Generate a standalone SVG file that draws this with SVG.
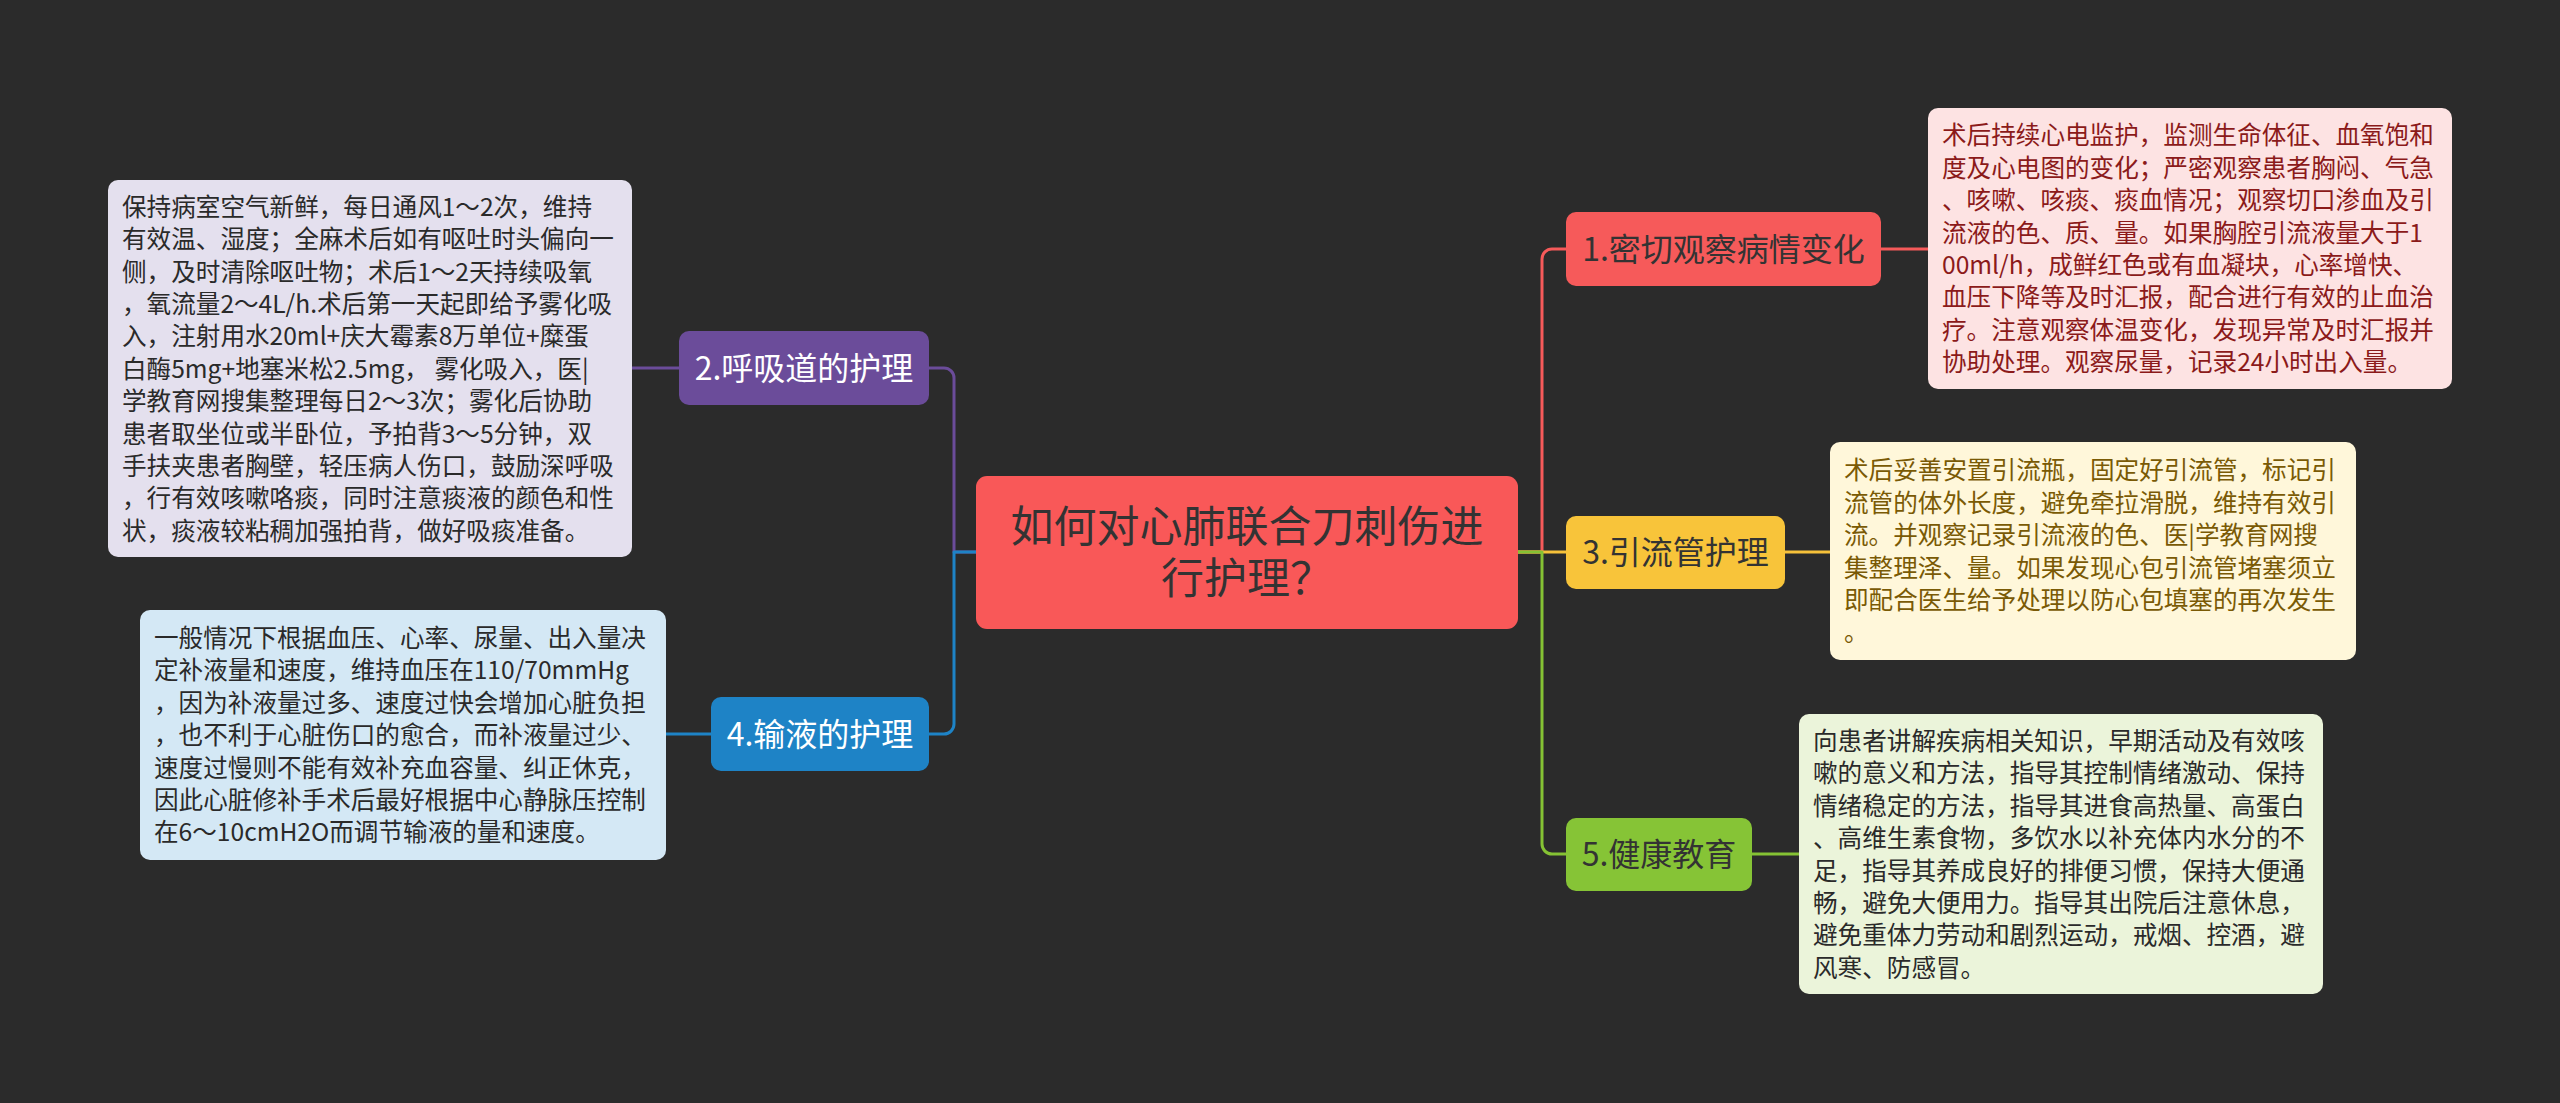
<svg xmlns="http://www.w3.org/2000/svg" width="2560" height="1103" viewBox="0 0 2560 1103">
<style>
text{font-family:"Noto Sans CJK SC","Noto Sans",sans-serif}
.c{fill:none;stroke-width:3;stroke-linecap:round;stroke-linejoin:round}
.t{font-size:32px;text-anchor:middle}
.d{font-size:24.6px}
.w{fill:#ffffff}
.k{fill:#333333}
</style>
<rect x="0" y="0" width="2560" height="1103" fill="#2b2b2b"/>
<g id="connectors">
<path class="c" stroke="#F65A5A" d="M1518,552 H1542 V259 A10,10 0 0 1 1552,249 H1566"/>
<path class="c" stroke="#F6C13A" d="M1518,552 H1566"/>
<path class="c" stroke="#85C234" d="M1518,552 H1542 V844 A10,10 0 0 0 1552,854 H1566"/>
<path class="c" stroke="#F65A5A" d="M1881,249 H1928"/>
<path class="c" stroke="#F6C13A" d="M1785,552 H1830"/>
<path class="c" stroke="#85C234" d="M1752,854 H1799"/>
<path class="c" stroke="#6B4C9A" d="M976,552 H954 V378 A10,10 0 0 0 944,368 H929"/>
<path class="c" stroke="#1E83C6" d="M976,552 H954 V724 A10,10 0 0 1 944,734 H929"/>
<path class="c" stroke="#6B4C9A" d="M679,368 H632"/>
<path class="c" stroke="#1E83C6" d="M711,734 H666"/>
</g>
<g id="central">
<rect x="976" y="476" width="542" height="153" rx="11" fill="#F95858"/>
<text x="1247" y="542" font-size="43" text-anchor="middle" class="k"><tspan x="1247" dy="0">如何对心肺联合刀刺伤进</tspan><tspan x="1247" dy="52">行护理？</tspan></text>
</g>
<g id="node1">
<rect x="1566" y="212" width="315" height="74" rx="10" fill="#F65A5A"/>
<text x="1723.5" y="261" class="t k">1.密切观察病情变化</text>
</g>
<g id="node3">
<rect x="1566" y="516" width="219" height="73" rx="10" fill="#F8C43A"/>
<text x="1675.5" y="564" class="t k">3.引流管护理</text>
</g>
<g id="node5">
<rect x="1566" y="818" width="186" height="73" rx="10" fill="#86C436"/>
<text x="1659" y="866" class="t k">5.健康教育</text>
</g>
<g id="node2">
<rect x="679" y="331" width="250" height="74" rx="10" fill="#6B4C9A"/>
<text x="804" y="380" class="t w">2.呼吸道的护理</text>
</g>
<g id="node4">
<rect x="711" y="697" width="218" height="74" rx="10" fill="#1E83C6"/>
<text x="820" y="746" class="t w">4.输液的护理</text>
</g>
<g id="detail1">
<rect x="1928" y="108" width="524" height="281" rx="10" fill="#FDE3E3"/>
<text class="d" fill="#8B1A1A" x="1942" y="144.4">
<tspan x="1942" dy="0">术后持续心电监护，监测生命体征、血氧饱和</tspan>
<tspan x="1942" dy="32.4">度及心电图的变化；严密观察患者胸闷、气急</tspan>
<tspan x="1942" dy="32.4">、咳嗽、咳痰、痰血情况；观察切口渗血及引</tspan>
<tspan x="1942" dy="32.4">流液的色、质、量。如果胸腔引流液量大于1</tspan>
<tspan x="1942" dy="32.4">00ml/h，成鲜红色或有血凝块，心率增快、</tspan>
<tspan x="1942" dy="32.4">血压下降等及时汇报，配合进行有效的止血治</tspan>
<tspan x="1942" dy="32.4">疗。注意观察体温变化，发现异常及时汇报并</tspan>
<tspan x="1942" dy="32.4">协助处理。观察尿量，记录24小时出入量。</tspan>
</text>
</g>
<g id="detail3">
<rect x="1830" y="442" width="526" height="218" rx="10" fill="#FFF7DA"/>
<text class="d" fill="#7A5A05" x="1844" y="479.3">
<tspan x="1844" dy="0">术后妥善安置引流瓶，固定好引流管，标记引</tspan>
<tspan x="1844" dy="32.4">流管的体外长度，避免牵拉滑脱，维持有效引</tspan>
<tspan x="1844" dy="32.4">流。并观察记录引流液的色、医|学教育网搜</tspan>
<tspan x="1844" dy="32.4">集整理泽、量。如果发现心包引流管堵塞须立</tspan>
<tspan x="1844" dy="32.4">即配合医生给予处理以防心包填塞的再次发生</tspan>
<tspan x="1844" dy="32.4">。</tspan>
</text>
</g>
<g id="detail5">
<rect x="1799" y="714" width="524" height="280" rx="10" fill="#EBF4DA"/>
<text class="d" fill="#2a2a2a" x="1813" y="750">
<tspan x="1813" dy="0">向患者讲解疾病相关知识，早期活动及有效咳</tspan>
<tspan x="1813" dy="32.4">嗽的意义和方法，指导其控制情绪激动、保持</tspan>
<tspan x="1813" dy="32.4">情绪稳定的方法，指导其进食高热量、高蛋白</tspan>
<tspan x="1813" dy="32.4">、高维生素食物，多饮水以补充体内水分的不</tspan>
<tspan x="1813" dy="32.4">足，指导其养成良好的排便习惯，保持大便通</tspan>
<tspan x="1813" dy="32.4">畅，避免大便用力。指导其出院后注意休息，</tspan>
<tspan x="1813" dy="32.4">避免重体力劳动和剧烈运动，戒烟、控酒，避</tspan>
<tspan x="1813" dy="32.4">风寒、防感冒。</tspan>
</text>
</g>
<g id="detail2">
<rect x="108" y="180" width="524" height="377" rx="10" fill="#E4E0EE"/>
<text class="d" fill="#2a2a2a" x="122" y="215.8">
<tspan x="122" dy="0">保持病室空气新鲜，每日通风1～2次，维持</tspan>
<tspan x="122" dy="32.4">有效温、湿度；全麻术后如有呕吐时头偏向一</tspan>
<tspan x="122" dy="32.4">侧，及时清除呕吐物；术后1～2天持续吸氧</tspan>
<tspan x="122" dy="32.4">，氧流量2～4L/h.术后第一天起即给予雾化吸</tspan>
<tspan x="122" dy="32.4">入，注射用水20ml+庆大霉素8万单位+糜蛋</tspan>
<tspan x="122" dy="32.4">白酶5mg+地塞米松2.5mg， 雾化吸入，医|</tspan>
<tspan x="122" dy="32.4">学教育网搜集整理每日2～3次；雾化后协助</tspan>
<tspan x="122" dy="32.4">患者取坐位或半卧位，予拍背3～5分钟，双</tspan>
<tspan x="122" dy="32.4">手扶夹患者胸壁，轻压病人伤口，鼓励深呼吸</tspan>
<tspan x="122" dy="32.4">，行有效咳嗽咯痰，同时注意痰液的颜色和性</tspan>
<tspan x="122" dy="32.4">状，痰液较粘稠加强拍背，做好吸痰准备。</tspan>
</text>
</g>
<g id="detail4">
<rect x="140" y="610" width="526" height="250" rx="10" fill="#D4E8F5"/>
<text class="d" fill="#2a2a2a" x="154" y="647">
<tspan x="154" dy="0">一般情况下根据血压、心率、尿量、出入量决</tspan>
<tspan x="154" dy="32.4">定补液量和速度，维持血压在110/70mmHg</tspan>
<tspan x="154" dy="32.4">，因为补液量过多、速度过快会增加心脏负担</tspan>
<tspan x="154" dy="32.4">，也不利于心脏伤口的愈合，而补液量过少、</tspan>
<tspan x="154" dy="32.4">速度过慢则不能有效补充血容量、纠正休克，</tspan>
<tspan x="154" dy="32.4">因此心脏修补手术后最好根据中心静脉压控制</tspan>
<tspan x="154" dy="32.4">在6～10cmH2O而调节输液的量和速度。</tspan>
</text>
</g>
</svg>
